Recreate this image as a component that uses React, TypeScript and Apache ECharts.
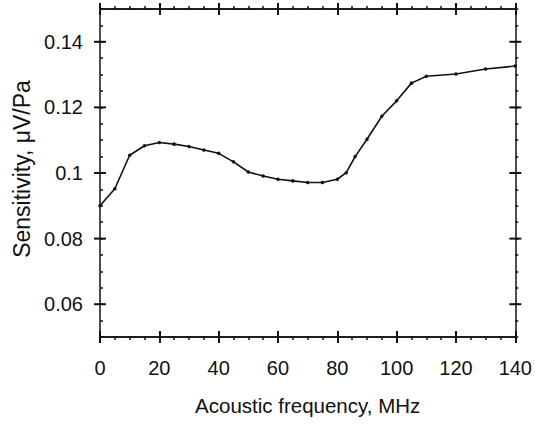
import React, { useEffect, useRef } from "react";
import * as echarts from "echarts";

const frequencyMHz = [0, 5, 10, 15, 20, 25, 30, 35, 40, 45, 50, 55, 60, 65, 70, 75, 80, 83, 86, 90, 95, 100, 105, 110, 120, 130, 140];
const sensitivity = [0.09, 0.0952, 0.1054, 0.1083, 0.1093, 0.1088, 0.1081, 0.107, 0.106, 0.1034, 0.1003, 0.0991, 0.0981, 0.0976, 0.0971, 0.0971, 0.0981, 0.1001, 0.105, 0.1103, 0.1173, 0.122, 0.1274, 0.1295, 0.1302, 0.1317, 0.1326];
const yMajorTicks = [0.06, 0.08, 0.1, 0.12, 0.14];
const xTitle = "Acoustic frequency, MHz";
const yTitle = "Sensitivity, \u03bcV/Pa";

const FONT = "'Liberation Sans', Arial, Helvetica, sans-serif";
const INK = "#111";
const X_MIN = 0;
const X_MAX = 140;

export default function App() {
  const ref = useRef<HTMLDivElement>(null);
  useEffect(() => {
    if (!ref.current) return;
    const chart = echarts.init(ref.current, undefined, { renderer: "svg" });
    const xBase = (position: string, inside: boolean, labels: boolean, minor: boolean) => ({
      type: "value",
      position,
      min: X_MIN,
      max: X_MAX,
      interval: 20,
      axisLine: { show: true, onZero: false, lineStyle: { color: INK, width: 1.5 } },
      axisTick: { show: true, inside, length: 6, lineStyle: { color: INK, width: 2 } },
      minorTick: { show: minor, splitNumber: 4, length: 3, lineStyle: { color: INK, width: 1.5 } },
      splitLine: { show: false },
      minorSplitLine: { show: false },
      axisLabel: labels
        ? { show: true, margin: 21, fontSize: 20, fontFamily: FONT, color: INK }
        : { show: false },
      name: labels ? xTitle : "",
      nameLocation: "middle",
      nameGap: 58,
      nameTextStyle: { fontSize: 20.5, fontFamily: FONT, color: INK },
    });
    const yBase = (position: string, inside: boolean, labels: boolean) => ({
      type: "value",
      position,
      min: 0.05,
      max: 0.15,
      interval: 0.005,
      axisLine: { show: true, onZero: false, lineStyle: { color: INK, width: 1.5 } },
      axisTick: { show: true, inside, length: 3, lineStyle: { color: INK, width: 1.5 } },
      splitLine: { show: false },
      axisLabel: labels
        ? { show: true, customValues: yMajorTicks, margin: 17, fontSize: 20, fontFamily: FONT, color: INK }
        : { show: false },
    });
    chart.setOption({
      animation: false,
      backgroundColor: "#fff",
      grid: { left: 100, right: 17, top: 9, bottom: 87, containLabel: false },
      xAxis: [
        xBase("bottom", false, true, true),
        xBase("bottom", true, false, false),
        xBase("top", false, false, true),
        xBase("top", true, false, false),
      ],
      yAxis: [yBase("left", true, true), yBase("right", false, false)],
      graphic: [
        {
          type: "text",
          x: 21.5,
          y: 169,
          rotation: Math.PI / 2,
          style: {
            text: yTitle,
            fontSize: 23,
            fontFamily: FONT,
            fill: INK,
            align: "center",
            verticalAlign: "middle",
          },
        },
      ],
      series: [
        {
          type: "line",
          xAxisIndex: 0,
          yAxisIndex: 0,
          data: frequencyMHz.map((f, i) => [f, sensitivity[i]]),
          symbol: "circle",
          symbolSize: 3.5,
          showSymbol: true,
          itemStyle: { color: INK },
          lineStyle: { color: INK, width: 1.6 },
          smooth: false,
          z: 3,
        },
        {
          type: "custom",
          xAxisIndex: 0,
          yAxisIndex: 0,
          silent: true,
          clip: false,
          data: yMajorTicks.map((v) => [X_MIN, v]),
          renderItem: (_params: any, api: any) => {
            const v = api.value(1);
            const pL = api.coord([X_MIN, v]);
            const pR = api.coord([X_MAX, v]);
            const st = { stroke: INK, lineWidth: 2 };
            return {
              type: "group",
              children: [
                { type: "line", shape: { x1: pL[0] - 6, y1: pL[1], x2: pL[0] + 6, y2: pL[1] }, style: st },
                { type: "line", shape: { x1: pR[0] - 6, y1: pR[1], x2: pR[0] + 6, y2: pR[1] }, style: st },
              ],
            };
          },
          z: 4,
        },
      ],
    });
    return () => chart.dispose();
  }, []);
  return <div ref={ref} style={{ position: "fixed", left: 0, top: 0, width: 535, height: 424 }} />;
}
